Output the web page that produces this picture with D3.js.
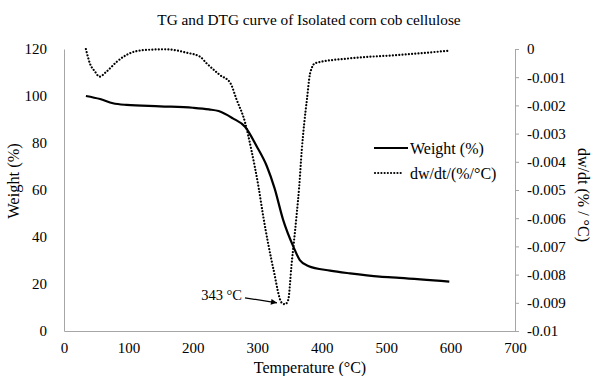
<!DOCTYPE html>
<html>
<head>
<meta charset="utf-8">
<script src="https://cdn.jsdelivr.net/npm/d3@7/dist/d3.min.js"></script>
<style>
  html, body { margin: 0; padding: 0; background: #fff; }
  svg { display: block; }
  svg text { font-family: "Liberation Serif", "Times New Roman", serif; fill: #000; }
</style>
</head>
<body>
<svg id="chart" width="593" height="376"></svg>
<script>
// TG curve: temperature (°C) vs remaining weight (%)
const tgTemp   = [34, 56, 76, 97, 149, 200, 225, 240, 262, 281, 299, 315, 327, 340, 356, 366, 379, 413, 444, 490, 521, 598];
const tgWeight = [100, 98.7, 96.9, 96.2, 95.6, 95, 94.3, 93.6, 90.5, 86.9, 78.6, 70, 60.6, 47.4, 35.9, 30.2, 27.7, 25.7, 24.5, 23.1, 22.6, 21];

// DTG curve: temperature (°C) vs dw/dt (%/°C)
const dtgTemp = [34, 40, 48, 55, 66, 82, 97, 123, 159, 190, 211, 221, 242, 258, 268, 281, 291, 302, 309, 325, 338, 343, 348, 353, 361, 365, 369, 373, 377, 382, 390, 444, 521, 598];
const dtgRate = [0, -0.0005, -0.0008, -0.00098, -0.0008, -0.00045, -0.00021, -0.00004, -0.00001, -0.00013, -0.00027, -0.0005, -0.00092, -0.0012, -0.0018, -0.0026, -0.0036, -0.0049, -0.0059, -0.0078, -0.009, -0.00905, -0.0089, -0.0077, -0.0059, -0.0049, -0.0036, -0.0026, -0.0018, -0.00086, -0.0005, -0.00033, -0.00021, -0.00006];

const xTicks = [0, 100, 200, 300, 400, 500, 600, 700];
const leftTicks = [0, 20, 40, 60, 80, 100, 120];
const rightTicks = [0, -0.001, -0.002, -0.003, -0.004, -0.005, -0.006, -0.007, -0.008, -0.009, -0.01];

const peakTemp = 343;
const peakRate = -0.009;

const svg = d3.select("#chart");
const plotLeft = 64, plotRight = 515, plotTop = 49, plotBottom = 331;

const x = d3.scaleLinear().domain([0, 700]).range([plotLeft, plotRight]);
const yL = d3.scaleLinear().domain([0, 120]).range([plotBottom, plotTop]);
const yR = d3.scaleLinear().domain([-0.01, 0]).range([plotBottom, plotTop]);

const axisColor = "#a6a6a6";
const fs = 15;

function styleAxis(g) {
  g.attr("font-family", null).attr("font-size", null);
  g.select(".domain").attr("stroke", axisColor);
  g.selectAll(".tick line").attr("stroke", axisColor);
  g.selectAll("text").attr("font-size", fs);
}

// title
svg.append("text")
  .attr("x", 309).attr("y", 25)
  .attr("text-anchor", "middle")
  .attr("font-size", 15.3)
  .text("TG and DTG curve of Isolated corn cob cellulose");

// bottom axis
svg.append("g").attr("transform", `translate(0,${plotBottom})`)
  .call(d3.axisBottom(x).tickValues(xTicks).tickSize(0).tickPadding(11).tickFormat(d3.format("d")))
  .call(styleAxis);

// left axis
svg.append("g").attr("transform", `translate(${plotLeft},0)`)
  .call(d3.axisLeft(yL).tickValues(leftTicks).tickSize(0).tickPadding(17))
  .call(styleAxis);

// right axis
svg.append("g").attr("transform", `translate(${plotRight},0)`)
  .call(d3.axisRight(yR).tickValues(rightTicks).tickSize(4).tickPadding(8).tickFormat(d => d === 0 ? "0" : String(d)))
  .call(styleAxis);

// axis titles
svg.append("text")
  .attr("x", 310).attr("y", 373)
  .attr("text-anchor", "middle")
  .attr("font-size", 16)
  .text("Temperature (°C)");

svg.append("text")
  .attr("transform", "translate(19,181) rotate(-90)")
  .attr("text-anchor", "middle")
  .attr("font-size", 16.4)
  .text("Weight (%)");

svg.append("text")
  .attr("transform", "translate(578,195) rotate(90)")
  .attr("text-anchor", "middle")
  .attr("font-size", 16)
  .text("dw/dt (% / °C)");

// curves
const tg = tgTemp.map((t, i) => [t, tgWeight[i]]);
const dtg = dtgTemp.map((t, i) => [t, dtgRate[i]]);

svg.append("path")
  .datum(dtg)
  .attr("fill", "none")
  .attr("stroke", "#000")
  .attr("stroke-width", 2.2)
  .attr("stroke-linecap", "round")
  .attr("stroke-dasharray", "0.01 3.2")
  .attr("d", d3.line().x(d => x(d[0])).y(d => yR(d[1])).curve(d3.curveMonotoneX));

svg.append("path")
  .datum(tg)
  .attr("fill", "none")
  .attr("stroke", "#000")
  .attr("stroke-width", 2.2)
  .attr("d", d3.line().x(d => x(d[0])).y(d => yL(d[1])).curve(d3.curveMonotoneX));

// legend
const lg = svg.append("g");
lg.append("line").attr("x1", 374).attr("x2", 408).attr("y1", 148).attr("y2", 148)
  .attr("stroke", "#000").attr("stroke-width", 2.2);
lg.append("text").attr("x", 410).attr("y", 148).attr("dy", "0.35em").attr("font-size", 16).text("Weight (%)");
lg.append("line").attr("x1", 375).attr("x2", 401).attr("y1", 173).attr("y2", 173)
  .attr("stroke", "#000").attr("stroke-width", 2.2).attr("stroke-linecap", "round").attr("stroke-dasharray", "0.01 3.2");
lg.append("text").attr("x", 410).attr("y", 173).attr("dy", "0.35em").attr("font-size", 16).text("dw/dt/(%/°C)");

// peak annotation
svg.append("defs").append("marker")
  .attr("id", "arrow").attr("viewBox", "0 0 10 10")
  .attr("refX", 10).attr("refY", 5)
  .attr("markerWidth", 7).attr("markerHeight", 6)
  .attr("markerUnits", "userSpaceOnUse")
  .attr("orient", "auto")
  .append("path").attr("d", "M0,0L10,5L0,10Z").attr("fill", "#000");

svg.append("line")
  .attr("x1", x(peakTemp) - 40).attr("y1", yR(peakRate) - 5)
  .attr("x2", x(peakTemp) - 8).attr("y2", yR(peakRate))
  .attr("stroke", "#000").attr("stroke-width", 1.2)
  .attr("marker-end", "url(#arrow)");

svg.append("text")
  .attr("x", x(peakTemp) - 43).attr("y", yR(peakRate) - 3)
  .attr("text-anchor", "end")
  .attr("font-size", 14.5)
  .text(peakTemp + " °C");
</script>
</body>
</html>
